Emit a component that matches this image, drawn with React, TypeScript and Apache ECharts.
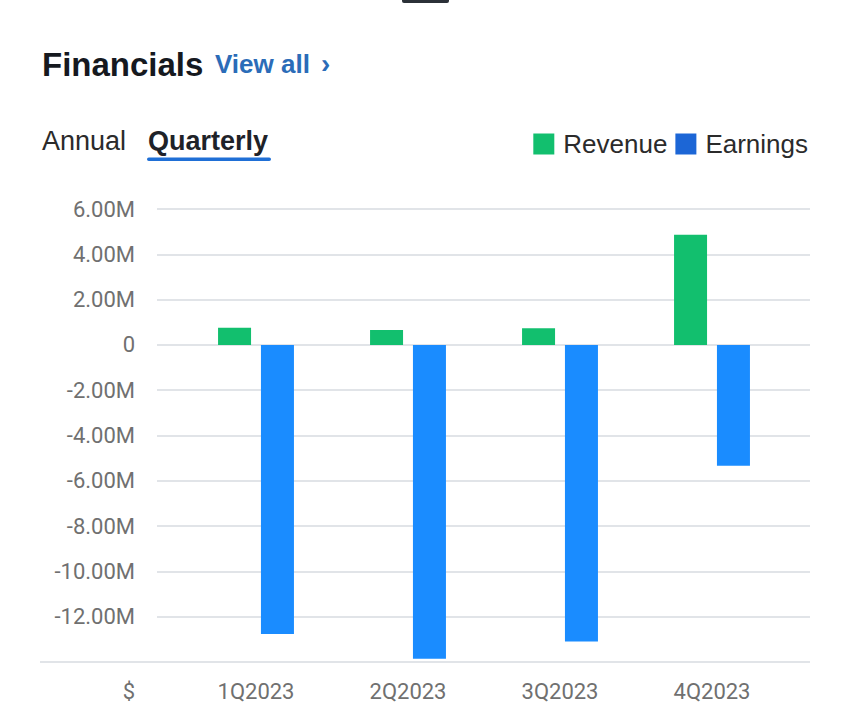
import React, { useEffect, useRef } from "react";
import * as echarts from "echarts";

const categories = ["1Q2023", "2Q2023", "3Q2023", "4Q2023"];
const revenue = [0.76e6, 0.66e6, 0.74e6, 4.86e6];
const earnings = [-12.76e6, -13.86e6, -13.1e6, -5.34e6];
const yMin = -14e6;
const yMax = 6e6;
const yStep = 2e6;

const GREEN = "#12bf6e";
const BLUE = "#1a8cff";
const LEGEND_BLUE = "#1c66d6";
const LABEL = "#707070";
const GRID = "#e1e4e8";

function fmt(v: number): string {
  if (v === 0) return "0";
  if (v === yMin) return "";
  return (v / 1e6).toFixed(2) + "M";
}

export default function App() {
  const ref = useRef<HTMLDivElement>(null);
  useEffect(() => {
    document.body.style.margin = "0";
    const chart = echarts.init(ref.current!, null, { renderer: "svg" });
    chart.setOption({
      animation: false,
      backgroundColor: "#ffffff",
      legend: {
        right: 37,
        top: 126,
        itemWidth: 21,
        itemHeight: 21,
        itemGap: 8,
        icon: "rect",
        textStyle: {
          fontFamily: "Liberation Sans",
          fontSize: 26,
          color: "#2b2b2b",
          padding: [0, 0, 0, 4],
        },
        data: [
          { name: "Revenue", itemStyle: { color: GREEN } },
          { name: "Earnings", itemStyle: { color: LEGEND_BLUE } },
        ],
      },
      grid: [
        { left: 157, right: 40, top: 209, bottom: 62 },
        { left: 180, right: 62, top: 209, bottom: 62 },
      ],
      xAxis: [
        { type: "category", gridIndex: 0, data: categories, show: false },
        {
          type: "category",
          gridIndex: 1,
          data: categories,
          axisLine: { show: false },
          axisTick: { show: false },
          axisLabel: {
            color: LABEL,
            fontFamily: "Roboto",
            fontSize: 22,
            margin: 18,
          },
        },
      ],
      yAxis: [
        {
          type: "value",
          gridIndex: 0,
          min: yMin,
          max: yMax,
          interval: yStep,
          axisLine: { show: false },
          axisTick: { show: false },
          splitLine: { lineStyle: { color: GRID, width: 2 } },
          axisLabel: {
            color: LABEL,
            fontFamily: "Roboto",
            fontSize: 22,
            margin: 22,
            formatter: fmt,
          },
        },
        {
          type: "value",
          gridIndex: 1,
          min: yMin,
          max: yMax,
          interval: yStep,
          show: false,
          splitLine: { show: false },
        },
      ],
      series: [
        {
          name: "Revenue",
          type: "bar",
          xAxisIndex: 1,
          yAxisIndex: 1,
          data: revenue,
          barWidth: 33,
          barGap: "30%",
          itemStyle: { color: GREEN },
        },
        {
          name: "Earnings",
          type: "bar",
          xAxisIndex: 1,
          yAxisIndex: 1,
          data: earnings,
          barWidth: 33,
          barGap: "30%",
          itemStyle: { color: BLUE },
        },
      ],
      graphic: [
        {
          type: "rect",
          shape: { x: 402, y: -3, width: 47, height: 6, r: 2 },
          style: { fill: "#2b3138" },
        },
        {
          type: "text",
          x: 42,
          y: 64,
          style: {
            text: "Financials",
            fontFamily: "Liberation Sans",
            fontWeight: "bold",
            fontSize: 33,
            fill: "#16191f",
            verticalAlign: "middle",
          },
        },
        {
          type: "text",
          x: 215,
          y: 64,
          style: {
            text: "View all",
            fontFamily: "Liberation Sans",
            fontWeight: "bold",
            fontSize: 26,
            fill: "#2b6cb8",
            verticalAlign: "middle",
          },
        },
        {
          type: "text",
          x: 321,
          y: 63,
          style: {
            text: "›",
            fontFamily: "Liberation Sans",
            fontWeight: "bold",
            fontSize: 28,
            fill: "#2b6cb8",
            verticalAlign: "middle",
          },
        },
        {
          type: "text",
          x: 42,
          y: 141,
          style: {
            text: "Annual",
            fontFamily: "Liberation Sans",
            fontSize: 27,
            fill: "#2b2b2b",
            verticalAlign: "middle",
          },
        },
        {
          type: "text",
          x: 148,
          y: 141,
          style: {
            text: "Quarterly",
            fontFamily: "Liberation Sans",
            fontWeight: "bold",
            fontSize: 27,
            fill: "#1e2228",
            verticalAlign: "middle",
          },
        },
        {
          type: "rect",
          shape: { x: 147, y: 157.5, width: 124, height: 3.5, r: 1.75 },
          style: { fill: "#1f6fd6" },
        },
        {
          type: "line",
          shape: { x1: 40, y1: 662, x2: 158, y2: 662 },
          style: { stroke: GRID, lineWidth: 2 },
        },
        {
          type: "text",
          x: 135,
          y: 691,
          style: {
            text: "$",
            fontFamily: "Roboto",
            fontSize: 22,
            fill: LABEL,
            align: "right",
            verticalAlign: "middle",
          },
        },
      ],
    });
    return () => chart.dispose();
  }, []);
  return (
    <div
      ref={ref}
      style={{ position: "absolute", left: 0, top: 0, width: 850, height: 724 }}
    />
  );
}
